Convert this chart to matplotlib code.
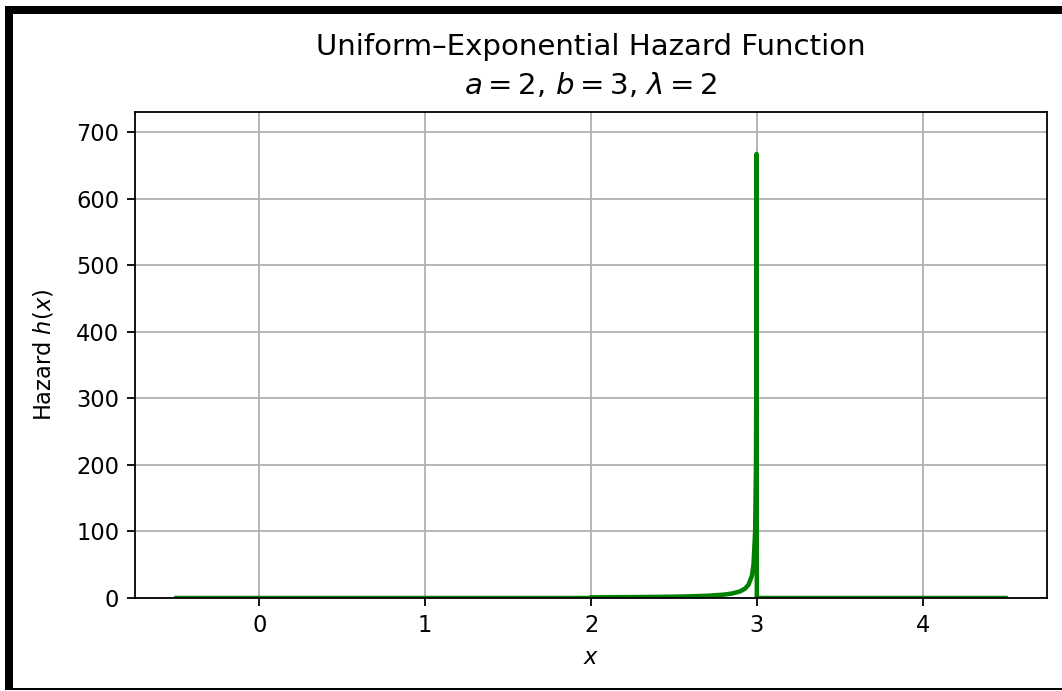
import matplotlib
matplotlib.use("Agg")
import matplotlib.pyplot as plt
from matplotlib.patches import Rectangle

# Hazard curve values (a=2, b=3, lambda=2)
x_vals = [-0.5, 1.999, 2.0, 2.2, 2.4, 2.5, 2.6, 2.7, 2.8, 2.85, 2.9, 2.93,
          2.95, 2.97, 2.98, 2.99, 2.995, 2.997, 2.9985, 3.0, 4.5]
h_vals = [0.0, 0.0, 1.0, 1.25, 1.67, 2.0, 2.5, 3.33, 5.0, 6.7, 10.0, 14.3,
          20.0, 33.0, 50.0, 100.0, 200.0, 333.0, 667.0, 0.0, 0.0]

x_ticks = [0, 1, 2, 3, 4]
y_ticks = [0, 100, 200, 300, 400, 500, 600, 700]

W, H = 1062, 691
DPI = 162
fig = plt.figure(figsize=(W / DPI, H / DPI), dpi=DPI)
ax = fig.add_axes([135 / W, 1 - 598 / H, (1047 - 135) / W, (598 - 112) / H])

ax.plot(x_vals, h_vals, color="green", lw=2)
ax.set_xlim(-0.75, 4.75)
ax.set_ylim(0, 730)
ax.set_xticks(x_ticks)
ax.set_yticks(y_ticks)
ax.grid(True)
ax.set_xlabel("$x$")
ax.set_ylabel("Hazard $h(x)$", labelpad=9)
ax.set_title("Uniform\u2013Exponential Hazard Function\n$a = 2$, $b = 3$, $\\lambda = 2$",
             fontsize=13, linespacing=1.45, pad=8)

# dark frame along the image edges
fig.add_artist(Rectangle((5 / W, 1 - 690 / H), 8 / W, 684 / H,
                         transform=fig.transFigure, color="black", lw=0))
fig.add_artist(Rectangle((5 / W, 1 - 14 / H), 1 - 5 / W, 8 / H,
                         transform=fig.transFigure, color="black", lw=0))
fig.add_artist(Rectangle((5 / W, 1 - 690 / H), 1 - 5 / W, 2 / H,
                         transform=fig.transFigure, color="black", lw=0))

fig.savefig("out.png", dpi=DPI)
